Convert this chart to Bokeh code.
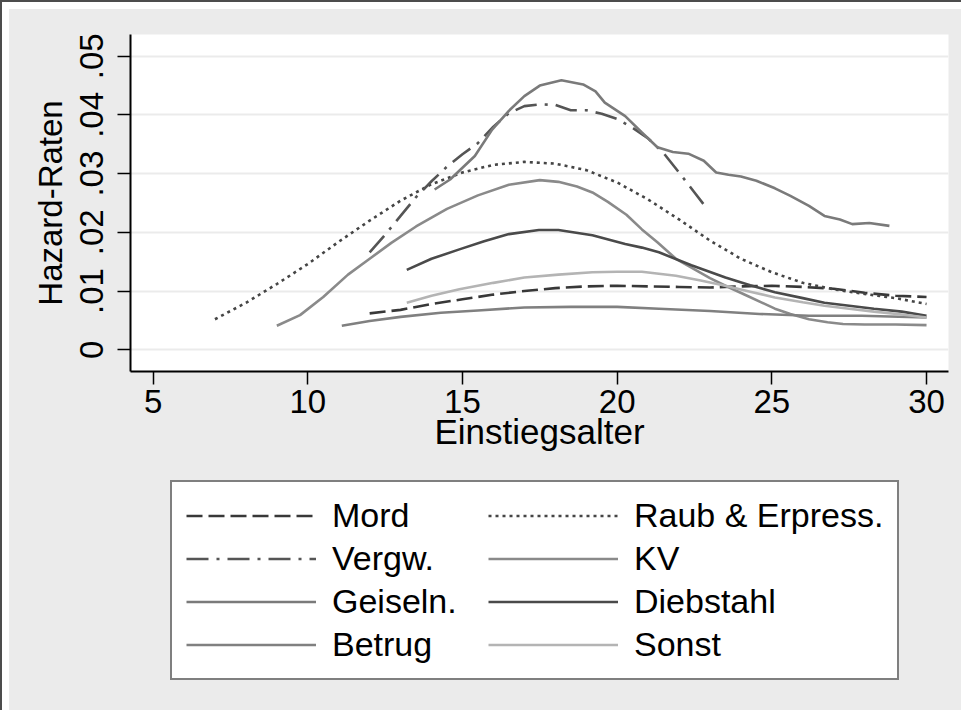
from bokeh.plotting import figure
from bokeh.models import Legend, LegendItem, FixedTicker, Range1d
from bokeh.layouts import column
from bokeh.embed import file_html
from bokeh.resources import INLINE

FONT = "Liberation Sans"

# ---- data ----
series_names = ["Mord", "Raub & Erpress.", "Vergw.", "KV", "Geiseln.", "Diebstahl", "Betrug", "Sonst"]

mord_x = [12, 13, 14, 15, 16, 17, 18, 19, 20, 21, 22, 23, 24, 25, 26, 27, 28, 29, 30]
mord_y = [.0062, .0068, .0078, .0086, .0094, .0100, .0105, .0108, .0109, .0108, .0107,
          .0106, .0108, .0109, .0107, .0104, .0097, .0092, .0090]

raub_x = [7, 8, 9, 10, 11, 12, 13, 14, 15, 16, 17, 18, 19, 20, 21, 22, 23, 24, 25, 26, 27, 28, 29, 30]
raub_y = [.0052, .0080, .0112, .0146, .0184, .0220, .0254, .0282, .0302, .0315, .0320, .0317,
          .0306, .0285, .0256, .0222, .0186, .0155, .0132, .0114, .0103, .0095, .0088, .0078]

vergw_x = [12.0, 12.5, 13, 13.5, 14, 14.5, 15, 15.5, 16, 16.5, 17, 17.5, 18, 18.5, 19, 19.5,
           20, 20.5, 21, 21.5, 22, 22.5, 22.85]
vergw_y = [.0166, .0196, .0228, .0260, .0287, .0312, .0333, .0352, .0380, .0403, .0415, .0418,
           .0417, .0408, .0408, .0402, .0393, .0378, .0360, .0335, .0302, .0268, .0244]

kv_x = [9.0, 9.75, 10.5, 11.3, 12, 12.7, 13.5, 14.5, 15.5, 16.5, 17.5, 18.1, 18.7, 19.2, 19.7,
        20.3, 20.8, 21.3, 21.9, 22.5, 23.0, 23.5, 24.2, 25.1, 25.6, 26.2, 26.8, 27.3, 28, 29, 30]
kv_y = [.0041, .0059, .0090, .0128, .0155, .0182, .0210, .0240, .0263, .0281, .0289, .0286,
        .0278, .0268, .0252, .0230, .0205, .0183, .0155, .0137, .0122, .0109, .0092, .0070,
        .0061, .0052, .0047, .0044, .0043, .0043, .0042]

geiseln_x = [14.1, 14.6, 15.0, 15.4, 15.96, 16.5, 17.0, 17.5, 18.2, 18.9, 19.3, 19.6, 20.26,
             20.8, 21.3, 21.8, 22.3, 22.8, 23.2, 23.6, 24.0, 24.5, 25.1, 25.6, 26.2, 26.7,
             27.2, 27.6, 28.15, 28.8]
geiseln_y = [.0273, .0290, .0310, .0330, .0375, .0407, .0432, .0450, .0459, .0452, .0440,
             .0421, .0398, .0370, .0345, .0337, .0334, .0322, .0302, .0298, .0295, .0288,
             .0275, .0262, .0245, .0228, .0222, .0214, .0216, .0211]

dieb_x = [13.2, 14.0, 14.9, 15.7, 16.5, 17.47, 18.1, 19.2, 20.26, 20.8, 21.35, 22.4, 23.5,
          24.3, 25.1, 26.0, 26.7, 27.5, 28.3, 29.2, 30]
dieb_y = [.0136, .0155, .0171, .0185, .0197, .0204, .0204, .0195, .0180, .0174, .0166, .0144,
          .0123, .0110, .0098, .0088, .0080, .0075, .0070, .0065, .0058]

betrug_x = [11.1, 12, 13, 14.3, 15.5, 17, 18.5, 20, 21.35, 23.0, 24.6, 26.2, 27.9, 30]
betrug_y = [.0041, .0049, .0056, .0063, .0067, .0072, .0073, .0073, .0070, .0066, .0061,
            .0058, .0058, .0055]

sonst_x = [13.2, 14.0, 14.9, 16.0, 17.0, 18.1, 19.2, 20.0, 20.8, 21.9, 22.7, 23.5, 24.3, 25.1,
           26.0, 26.7, 27.5, 28.3, 29.2, 30]
sonst_y = [.0080, .0092, .0103, .0114, .0123, .0128, .0132, .0133, .0133, .0126, .0118, .0109,
           .0099, .0089, .0081, .0075, .0070, .0065, .0060, .0055]

x_ticks = [5, 10, 15, 20, 25, 30]
y_ticks = [0, 0.01, 0.02, 0.03, 0.04, 0.05]
y_tick_labels = ["0", ".01", ".02", ".03", ".04", ".05"]

# ---- styles ----
styles = [
    dict(color="#383838", dash="16 6"),
    dict(color="#454545", dash="3 4"),
    dict(color="#555555", dash="22 8 3 8"),
    dict(color="#8a8a8a", dash="solid"),
    dict(color="#7a7a7a", dash="solid"),
    dict(color="#4a4a4a", dash="solid"),
    dict(color="#808080", dash="solid"),
    dict(color="#b4b4b4", dash="solid"),
]
data = [(mord_x, mord_y), (raub_x, raub_y), (vergw_x, vergw_y), (kv_x, kv_y),
        (geiseln_x, geiseln_y), (dieb_x, dieb_y), (betrug_x, betrug_y), (sonst_x, sonst_y)]

GRAY = "#ebebeb"
W = 952
H_TOP = 463
H_BOT = 238

# ---------------- main plot ----------------
p = figure(width=W, height=H_TOP,
           x_range=Range1d(4.27, 30.71), y_range=Range1d(-0.0037, 0.0537),
           output_backend="svg", toolbar_location=None,
           min_border_left=121, min_border_top=25, min_border_right=13, min_border_bottom=101)
p.border_fill_color = GRAY
p.background_fill_color = "white"
p.outline_line_color = None

for name, (xs, ys), st in zip(series_names, data, styles):
    p.line(xs, ys, line_color=st["color"], line_width=2.6, line_dash=st["dash"])

p.xaxis.ticker = FixedTicker(ticks=x_ticks)
p.yaxis.ticker = FixedTicker(ticks=y_ticks)
p.yaxis.major_label_overrides = {t: l for t, l in zip(y_ticks, y_tick_labels)}
p.yaxis.major_label_orientation = "vertical"
p.xaxis.axis_label = "Einstiegsalter"
p.yaxis.axis_label = "Hazard-Raten"
for ax in (p.xaxis, p.yaxis):
    ax.axis_line_color = "black"
    ax.axis_line_width = 2
    ax.major_tick_line_color = "black"
    ax.major_tick_line_width = 1.5
    ax.major_tick_out = 13
    ax.major_tick_in = 0
    ax.minor_tick_line_color = None
    ax.major_label_text_font = FONT
    ax.major_label_text_font_size = "33px"
    ax.major_label_text_color = "black"
    ax.axis_label_text_font = FONT
    ax.axis_label_text_font_style = "normal"
    ax.axis_label_text_color = "black"
p.xaxis.axis_label_text_font_size = "35px"
p.yaxis.axis_label_text_font_size = "33px"
p.xaxis.major_label_standoff = 5
p.xaxis.axis_label_standoff = -4
p.yaxis.major_label_standoff = 14
p.yaxis.axis_label_standoff = 9

p.xgrid.grid_line_color = None
p.ygrid.ticker = FixedTicker(ticks=y_ticks)
p.ygrid.grid_line_color = GRAY
p.ygrid.grid_line_width = 2

# ---------------- legend panel ----------------
q = figure(width=W, height=H_BOT, x_range=Range1d(0, 1), y_range=Range1d(0, 1),
           x_axis_location=None, y_axis_location=None,
           output_backend="svg", toolbar_location=None,
           min_border=0, min_border_left=0, min_border_right=0, min_border_top=0, min_border_bottom=0)
q.grid.visible = False
q.background_fill_color = None
q.border_fill_color = None
q.outline_line_color = None

# legend sample renderers: drawn outside the visible range, shown only as legend keys
key_x = [5, 6]
key_y = [5, 6]
items = []
for name, st in zip(series_names, styles):
    r = q.line(x=key_x, y=key_y, line_color=st["color"], line_width=2.6, line_dash=st["dash"])
    items.append(LegendItem(label=name, renderers=[r]))

# (the legend panel's frame is aligned with the main plot's frame by the column layout)
legend = Legend(items=items, location=(40, 30), orientation="horizontal", ncols=2)
legend.label_text_font = FONT
legend.label_text_font_size = "34px"
legend.label_text_color = "black"
legend.glyph_width = 130
legend.glyph_height = 39
legend.label_height = 39
legend.label_width = 152
legend.label_standoff = 16
legend.spacing = 4
legend.padding = 14
legend.margin = 0
legend.border_line_color = "black"
legend.border_line_width = 2
legend.background_fill_color = "white"
legend.background_fill_alpha = 1
q.add_layout(legend, "center")

layout = column(p, q, spacing=0,
                styles={"border-top": "2px solid #4d4d4d", "border-left": "2px solid #4d4d4d",
                        "padding-top": "7px", "padding-left": "7px",
                        "background-color": GRAY, "background-clip": "content-box"})

open("out.html", "w").write(file_html(layout, INLINE))
